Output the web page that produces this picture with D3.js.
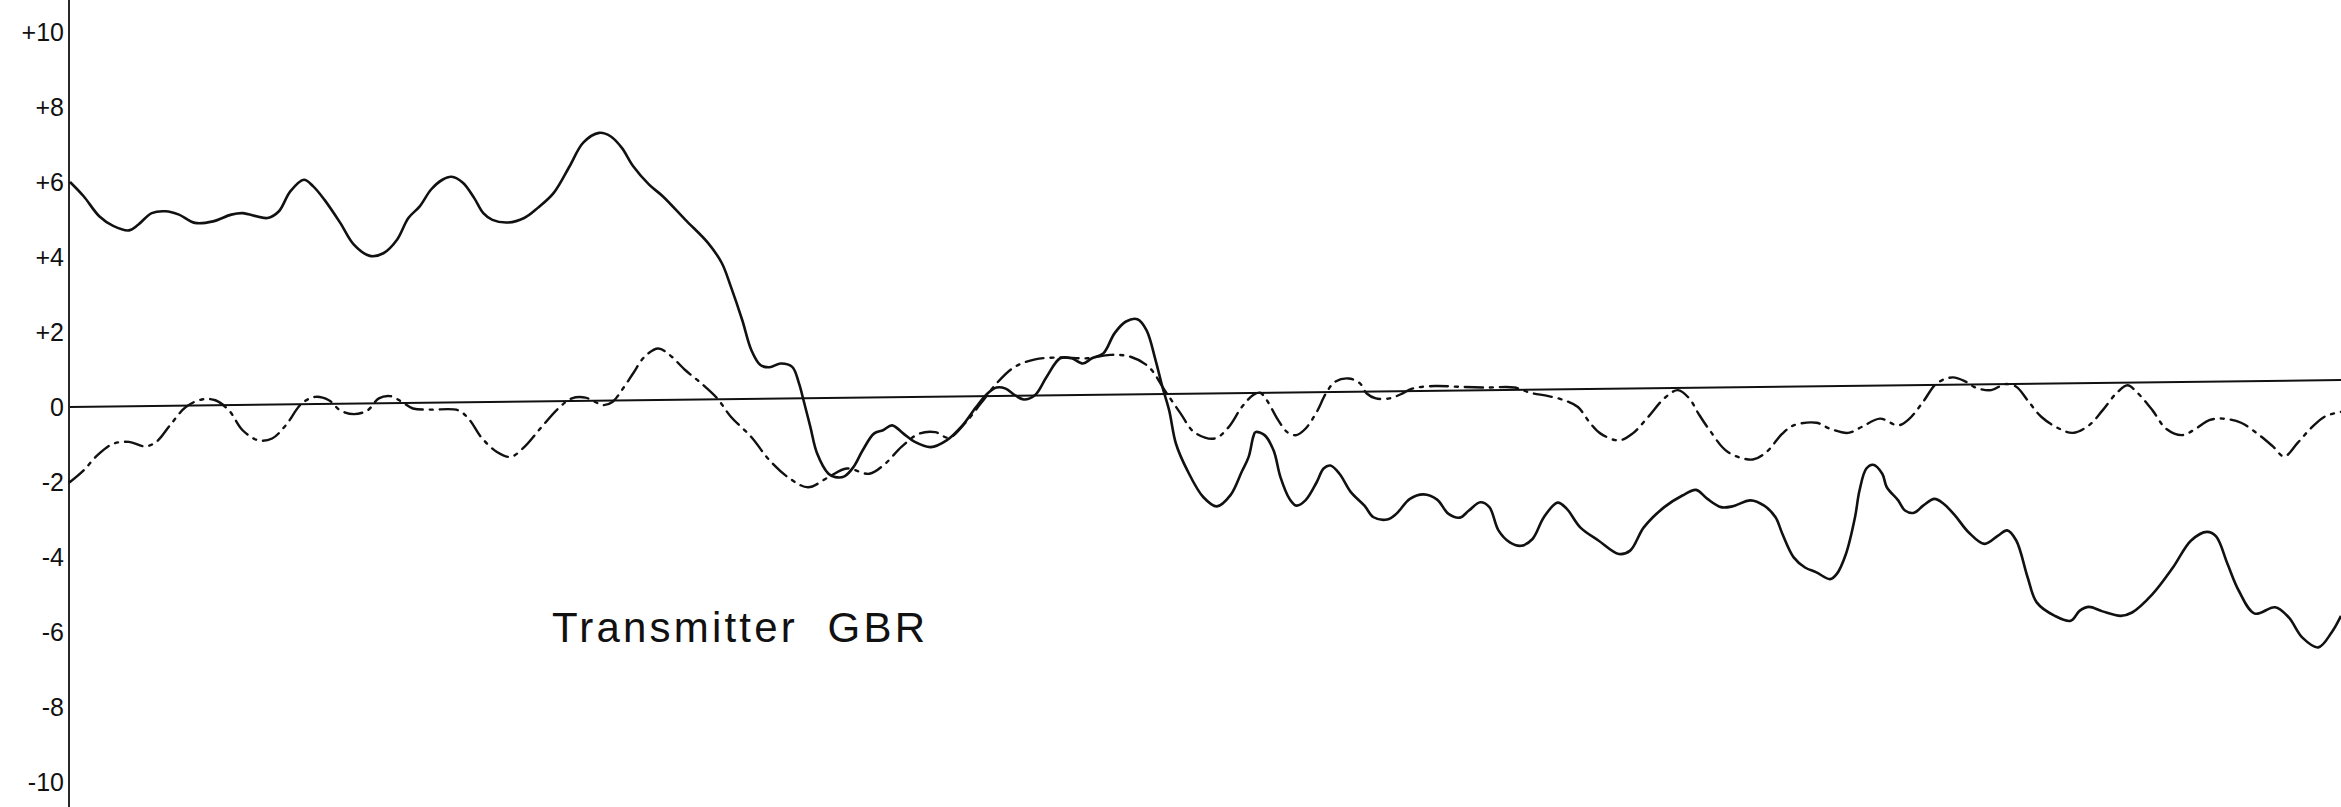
<!DOCTYPE html>
<html>
<head>
<meta charset="utf-8">
<script src="https://cdn.jsdelivr.net/npm/d3@7"></script>
<style>
  html, body { margin: 0; padding: 0; background: #fff; }
  svg { display: block; }
</style>
</head>
<body>
<div id="chart"></div>
<script>
// ---- Data ----
// x position: arbitrary time units 0..100 across the plot; y: value on the -10..+10 scale
const tickValues = [10, 8, 6, 4, 2, 0, -2, -4, -6, -8, -10];
const tickLabels = ["+10", "+8", "+6", "+4", "+2", "0", "-2", "-4", "-6", "-8", "-10"];
const chartLabel = "Transmitter  GBR";

// zero reference line (slightly tilted in the original)
const baseT = [0, 100];
const baseV = [0, 0.72];

// solid curve
const solidT = [0,0.6,1.3,1.9,2.6,3.0,3.6,4.2,4.8,5.5,6.3,7.1,7.6,8.7,9.2,9.7,10.3,10.7,11.2,11.9,12.5,13.2,13.8,14.4,14.9,15.4,15.9,16.4,16.8,17.3,17.8,18.2,18.6,19.3,20.0,20.6,21.3,22.0,22.6,23.3,23.8,24.3,24.8,25.5,26.1,27.1,28.1,28.7,29.1,29.6,30.0,30.4,30.8,31.3,31.8,32.1,32.3,32.6,32.9,33.4,33.7,34.1,34.5,34.9,35.4,35.8,36.2,36.7,37.2,37.9,38.6,39.3,39.9,40.4,40.8,41.2,41.6,42.0,42.5,43.0,43.6,44.1,44.6,45.0,45.5,46.0,46.5,47.0,47.4,47.8,48.1,48.4,48.7,49.2,49.9,50.5,51.1,51.6,51.9,52.1,52.2,52.6,53.0,53.3,53.7,54.0,54.4,54.9,55.2,55.5,55.9,56.4,57.0,57.4,58.0,58.4,59.0,59.6,60.2,60.7,61.2,61.6,62.1,62.5,62.9,63.4,63.9,64.4,64.9,65.5,65.9,66.5,67.3,68.2,68.7,69.3,70.2,71.0,71.6,72.1,72.7,73.2,74.0,74.6,75.1,75.4,75.9,76.4,76.9,77.5,77.8,78.2,78.6,78.8,79.1,79.4,79.8,80.0,80.5,80.8,81.2,81.6,82.1,82.5,83.0,83.6,84.3,84.9,85.3,85.7,86.2,86.6,87.4,88.1,88.5,88.9,89.5,90.3,90.8,91.7,92.6,93.4,94.1,94.5,95.0,95.5,96.2,97.1,97.7,98.3,99.0,99.6,100];
const solidV = [6.0,5.62,5.08,4.83,4.71,4.86,5.17,5.22,5.13,4.91,4.95,5.13,5.17,5.04,5.22,5.75,6.06,5.89,5.53,4.91,4.33,4.03,4.10,4.46,5.04,5.35,5.80,6.06,6.14,5.98,5.57,5.17,4.99,4.92,5.04,5.31,5.71,6.42,7.05,7.31,7.22,6.91,6.42,5.93,5.62,4.99,4.37,3.84,3.21,2.32,1.52,1.12,1.06,1.16,1.07,0.63,0.18,-0.53,-1.24,-1.78,-1.87,-1.85,-1.60,-1.16,-0.71,-0.62,-0.49,-0.71,-0.93,-1.07,-0.89,-0.49,0.0,0.36,0.52,0.49,0.32,0.20,0.32,0.80,1.30,1.30,1.16,1.30,1.43,1.97,2.28,2.34,2.05,1.25,0.54,-0.09,-0.98,-1.69,-2.40,-2.65,-2.35,-1.72,-1.33,-0.80,-0.67,-0.75,-1.16,-1.87,-2.45,-2.63,-2.49,-2.0,-1.64,-1.56,-1.78,-2.27,-2.63,-2.94,-3.0,-2.85,-2.45,-2.33,-2.47,-2.85,-2.95,-2.76,-2.54,-2.67,-3.29,-3.61,-3.70,-3.52,-2.94,-2.55,-2.71,-3.21,-3.56,-3.92,-3.83,-3.21,-2.67,-2.36,-2.21,-2.45,-2.67,-2.65,-2.49,-2.63,-2.94,-3.38,-4.01,-4.28,-4.41,-4.59,-4.45,-3.92,-2.94,-2.22,-1.64,-1.54,-1.78,-2.14,-2.49,-2.76,-2.82,-2.63,-2.45,-2.58,-2.89,-3.34,-3.65,-3.43,-3.29,-3.56,-4.54,-5.21,-5.57,-5.70,-5.43,-5.33,-5.45,-5.57,-5.48,-4.99,-4.28,-3.56,-3.33,-3.45,-4.18,-4.90,-5.51,-5.34,-5.61,-6.15,-6.41,-6.0,-5.57];

// dash-dot curve
const dashT = [0,0.6,1.2,1.9,2.6,3.3,3.8,4.4,5.1,5.8,6.4,7.0,7.6,8.3,8.9,9.5,10.2,10.8,11.4,11.9,12.5,13.1,13.6,14.1,14.6,15.1,15.9,17.1,17.6,18.1,18.8,19.4,20.0,20.7,21.5,22.1,22.7,23.1,23.5,23.9,24.3,24.8,25.3,25.9,26.4,27.1,27.8,28.5,29.1,30.0,30.8,31.7,32.5,33.4,34.2,35.2,35.9,36.6,37.4,38.1,38.7,39.4,40.1,40.8,41.6,42.5,43.6,44.8,45.8,46.7,47.5,48.2,48.9,49.5,50.4,51.0,51.6,52.1,52.4,52.7,53.2,53.6,54.0,54.4,54.9,55.3,55.7,56.3,56.8,57.1,57.5,58.1,58.6,59.1,60.1,61.1,62.4,63.6,64.3,65.1,65.8,66.4,66.9,67.4,68.2,68.8,69.5,70.2,70.8,71.3,71.7,72.2,73.0,74.1,74.7,75.4,75.9,76.9,77.5,78.3,78.9,79.7,80.5,81.0,81.6,82.2,82.9,83.5,83.9,84.6,85.2,85.7,86.2,86.8,87.6,88.2,88.9,89.5,90.1,90.6,91.0,91.7,92.3,93.0,93.6,94.2,94.8,95.6,96.4,97.0,97.5,98.1,98.7,99.3,100];
const dashV = [-2.0,-1.69,-1.29,-0.98,-0.93,-1.05,-0.93,-0.49,0.0,0.20,0.18,-0.09,-0.62,-0.89,-0.84,-0.49,0.09,0.27,0.18,-0.09,-0.19,-0.09,0.23,0.29,0.14,-0.04,-0.07,-0.09,-0.35,-0.80,-1.20,-1.33,-1.07,-0.58,-0.04,0.23,0.25,0.14,0.05,0.14,0.45,0.90,1.34,1.56,1.39,0.98,0.63,0.23,-0.26,-0.80,-1.42,-1.91,-2.14,-1.87,-1.64,-1.78,-1.51,-1.07,-0.71,-0.67,-0.82,-0.44,0.09,0.63,1.07,1.27,1.32,1.30,1.39,1.34,1.07,0.45,-0.17,-0.67,-0.84,-0.55,0.0,0.32,0.38,0.18,-0.35,-0.67,-0.75,-0.58,-0.13,0.36,0.67,0.76,0.63,0.36,0.23,0.23,0.34,0.49,0.56,0.54,0.52,0.52,0.38,0.29,0.18,0.0,-0.40,-0.71,-0.89,-0.71,-0.26,0.23,0.45,0.23,-0.17,-0.62,-1.20,-1.40,-1.20,-0.71,-0.49,-0.42,-0.58,-0.69,-0.53,-0.31,-0.49,-0.31,0.14,0.63,0.79,0.67,0.52,0.45,0.61,0.54,0.18,-0.26,-0.58,-0.69,-0.49,-0.09,0.36,0.58,0.40,-0.09,-0.58,-0.75,-0.58,-0.35,-0.31,-0.42,-0.75,-1.05,-1.32,-0.95,-0.55,-0.25,-0.13];

// ---- Drawing ----
const W = 2341, H = 807;
const axisX = 69;

const svg = d3.select("#chart").append("svg")
  .attr("width", W).attr("height", H)
  .attr("viewBox", `0 0 ${W} ${H}`);

const x = d3.scaleLinear().domain([0, 100]).range([axisX + 1, W]);
const y = d3.scaleLinear().domain([-10, 10]).range([782, 32]);

// vertical axis line spanning the full height
svg.append("line")
  .attr("x1", axisX).attr("x2", axisX)
  .attr("y1", 0).attr("y2", H)
  .attr("stroke", "#111").attr("stroke-width", 1.8);

// tick labels via d3 axis (no tick marks / domain)
const yAxis = d3.axisLeft(y)
  .tickValues(tickValues)
  .tickSize(0)
  .tickPadding(5)
  .tickFormat((d, i) => tickLabels[i]);
const gAxis = svg.append("g")
  .attr("transform", `translate(${axisX},0)`)
  .call(yAxis);
gAxis.select(".domain").remove();
gAxis.selectAll("text")
  .attr("font-family", "'Liberation Sans', Arial, sans-serif")
  .attr("font-size", 25)
  .attr("fill", "#111");

// zero reference line
const baseData = baseT.map((t, i) => [t, baseV[i]]);
svg.append("path")
  .datum(baseData)
  .attr("fill", "none")
  .attr("stroke", "#111")
  .attr("stroke-width", 2)
  .attr("d", d3.line().x(d => x(d[0])).y(d => y(d[1])));

const lineGen = d3.line()
  .x(d => x(d[0]))
  .y(d => y(d[1]))
  .curve(d3.curveCatmullRom.alpha(0.5));

// solid series
svg.append("path")
  .datum(solidT.map((t, i) => [t, solidV[i]]))
  .attr("fill", "none")
  .attr("stroke", "#111")
  .attr("stroke-width", 2.6)
  .attr("stroke-linejoin", "round")
  .attr("d", lineGen);

// dash-dot series
svg.append("path")
  .datum(dashT.map((t, i) => [t, dashV[i]]))
  .attr("fill", "none")
  .attr("stroke", "#111")
  .attr("stroke-width", 2.4)
  .attr("stroke-dasharray", "18 7 3 7")
  .attr("stroke-linecap", "round")
  .attr("d", lineGen);

// chart label
svg.append("text")
  .attr("x", 552)
  .attr("y", 642)
  .attr("font-family", "'Liberation Sans', Arial, sans-serif")
  .attr("font-size", 42)
  .attr("fill", "#111")
  .attr("textLength", 373)
  .attr("lengthAdjust", "spacing")
  .attr("xml:space", "preserve")
  .style("white-space", "pre")
  .text(chartLabel);
</script>
</body>
</html>
